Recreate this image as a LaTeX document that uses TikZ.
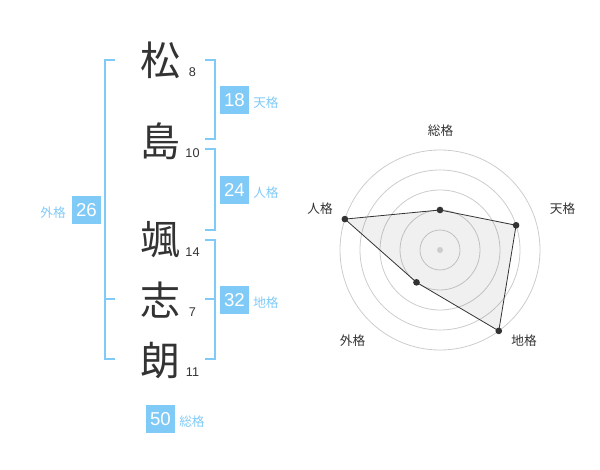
\documentclass[tikz,border=0pt]{standalone}
\usepackage{fontspec}
\setmainfont{Liberation Sans}
\newfontfamily\jpfont{Noto Sans CJK JP}
\usetikzlibrary{calc}
\definecolor{kakublue}{RGB}{128,202,247}
\definecolor{inkgray}{RGB}{51,51,51}
\definecolor{ringgray}{RGB}{204,204,204}
\tikzset{
	kanji/.style={text=inkgray, inner sep=0, font=\jpfont\fontsize{30}{30}\selectfont},
	strokes/.style={text=inkgray, inner sep=0, font=\fontsize{9.5}{10}\selectfont},
	kakubox/.style={fill=kakublue, text=white, inner sep=0, minimum width=21.75pt, minimum height=21pt, font=\fontsize{14}{14}\selectfont},
	kakulabel/.style={text=kakublue, inner sep=0, font=\jpfont\fontsize{9.5}{10}\selectfont},
	bracket/.style={draw=kakublue, line width=1.5pt},
	ring/.style={draw=ringgray, line width=0.6pt},
	axislabel/.style={text=inkgray, inner sep=0, font=\jpfont\fontsize{9.5}{10}\selectfont},
	dot/.style={circle, fill=inkgray, inner sep=0, minimum size=5pt}
}
\begin{document}
\begin{tikzpicture}[x=0.75pt, y=-0.75pt]
		%%%%% START %%%%%
		\useasboundingbox (0, 0) rectangle (600, 470);
		
		\node[kanji] (matsu) at (160, 60) {松};
		\node[kanji] (shima) at (160, 141) {島};
		\node[kanji] (satsu) at (160, 240) {颯};
		\node[kanji] (shi) at (160, 300) {志};
		\node[kanji] (rou) at (160, 360) {朗};
		
		\node[strokes] (n-matsu) at (192.5, 72) {8};
		\node[strokes] (n-shima) at (192.5, 153) {10};
		\node[strokes] (n-satsu) at (192.5, 252) {14};
		\node[strokes] (n-shi) at (192.5, 312) {7};
		\node[strokes] (n-rou) at (192.5, 372) {11};
		
		\draw[bracket] (115, 60) -- (105, 60) -- (105, 359) -- (115, 359);
		\draw[bracket] (105, 299) -- (115, 299);
		\draw[bracket] (205, 60) -- (215, 60) -- (215, 139) -- (205, 139);
		\draw[bracket] (205, 149) -- (215, 149) -- (215, 230) -- (205, 230);
		\draw[bracket] (205, 240) -- (215, 240) -- (215, 359) -- (205, 359);
		\draw[bracket] (205, 299) -- (215, 299);
		
		\node[kakubox] (ten) at (234.5, 100) {18};
		\node[kakulabel, anchor=west] (ten-l) at (253, 103) {天格};
		\node[kakubox] (jin) at (234.5, 190) {24};
		\node[kakulabel, anchor=west] (jin-l) at (253, 193) {人格};
		\node[kakubox] (chi) at (234.5, 300) {32};
		\node[kakulabel, anchor=west] (chi-l) at (253, 303) {地格};
		\node[kakubox] (gai) at (86.5, 210) {26};
		\node[kakulabel, anchor=east] (gai-l) at (66, 213) {外格};
		\node[kakubox] (sou) at (160.5, 419) {50};
		\node[kakulabel, anchor=west] (sou-l) at (179, 422) {総格};
		
		\begin{scope}[shift={(440, 250)}, yscale=-1]
			\foreach \r in {20, 40, 60, 80, 100}
				\draw[ring] (0, 0) circle (\r);
			
			\coordinate (r-sou) at (90:40);
			\coordinate (r-ten) at (18:80);
			\coordinate (r-chi) at (-54:100);
			\coordinate (r-gai) at (-126:40);
			\coordinate (r-jin) at (162:100);
			
			\draw[inkgray, line width=0.6pt, fill=black, fill opacity=0.06] (r-sou) -- (r-ten) -- (r-chi) -- (r-gai) -- (r-jin) -- cycle;
			\fill[ringgray] (0, 0) circle (3);
			\foreach \p in {sou, ten, chi, gai, jin}
				\node[dot] at (r-\p) {};
		\end{scope}
		
		\node[axislabel] (a-sou) at (440.5, 130.5) {総格};
		\node[axislabel] (a-ten) at (562.5, 208.5) {天格};
		\node[axislabel] (a-chi) at (524, 341) {地格};
		\node[axislabel] (a-gai) at (352.5, 341) {外格};
		\node[axislabel] (a-jin) at (320, 208.5) {人格};
		
		%%%%% END %%%%%
	\end{tikzpicture}
\end{document}
